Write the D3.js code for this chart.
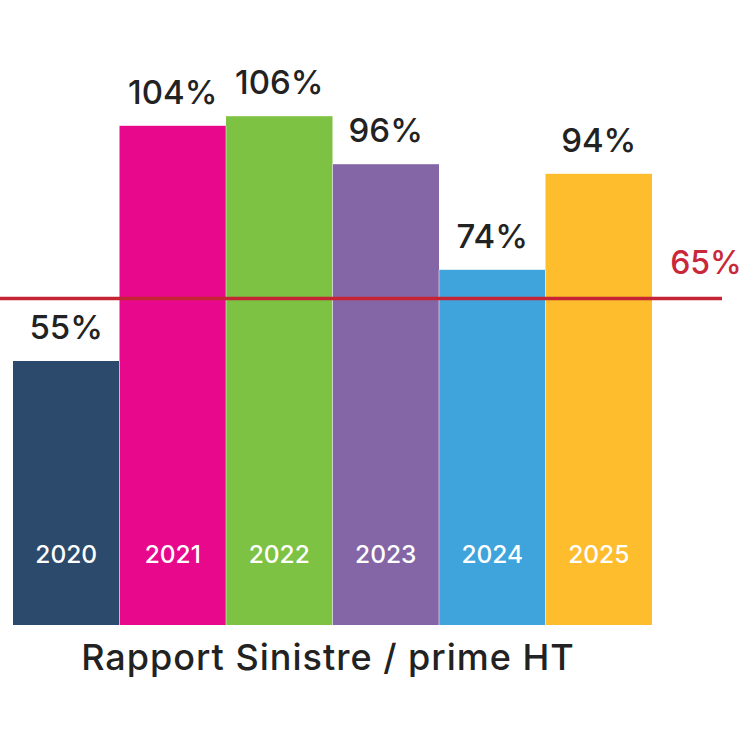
<!DOCTYPE html>
<html>
<head>
<meta charset="utf-8">
<script src="https://cdn.jsdelivr.net/npm/d3@7/dist/d3.min.js"></script>
<style>
  html, body { margin: 0; padding: 0; background: #fff; }
  svg { display: block; }
  text { font-family: Inter, "Noto Sans", sans-serif; }
</style>
</head>
<body>
<svg id="chart" width="745" height="745"></svg>
<script>
// ---- Data ----
const years = ["2020", "2021", "2022", "2023", "2024", "2025"];
const ratios = [55, 104, 106, 96, 74, 94];
const barColors = ["#2c4a6b", "#e8088c", "#7dc242", "#8466a6", "#40a4dc", "#fdbd2c"];
const refLabel = "65%";
const refLevel = 68; // level at which the red line is drawn in the picture
const title = "Rapport Sinistre / prime HT";

// ---- Layout ----
const svg = d3.select("#chart");
const x = d3.scaleBand().domain(years).range([13, 652]).padding(0);
const y = d3.scaleLinear().domain([0, 125]).range([625, 25]);

const g = svg.append("g");

g.selectAll("rect.bar")
  .data(years)
  .join("rect")
  .attr("class", "bar")
  .attr("x", d => x(d))
  .attr("width", x.bandwidth())
  .attr("y", (d, i) => y(ratios[i]))
  .attr("height", (d, i) => y(0) - y(ratios[i]))
  .attr("fill", (d, i) => barColors[i]);

// thin light separators between bars
g.selectAll("line.sep")
  .data(years.slice(1))
  .join("line")
  .attr("class", "sep")
  .attr("x1", d => x(d)).attr("x2", d => x(d))
  .attr("y1", (d) => y(Math.min(ratios[years.indexOf(d)], ratios[years.indexOf(d) - 1])))
  .attr("y2", y(0))
  .attr("stroke", "rgba(255,255,255,0.5)")
  .attr("stroke-width", 1);

// reference line
g.append("line")
  .attr("x1", 0).attr("x2", 722)
  .attr("y1", y(refLevel)).attr("y2", y(refLevel))
  .attr("stroke", "#c42434")
  .attr("stroke-width", 3.5);

g.append("text")
  .attr("x", 706)
  .attr("y", y(refLevel) - 25)
  .attr("text-anchor", "middle")
  .attr("fill", "#c8283a")
  .attr("font-size", 32)
  .attr("font-weight", 500)
  .text(refLabel);

// value labels
g.selectAll("text.val")
  .data(years)
  .join("text")
  .attr("class", "val")
  .attr("x", d => x(d) + x.bandwidth() / 2)
  .attr("y", (d, i) => y(ratios[i]) - 22)
  .attr("text-anchor", "middle")
  .attr("fill", "#222")
  .attr("font-size", 33)
  .attr("font-weight", 500)
  .text((d, i) => ratios[i] + "%");

// year labels inside bars
g.selectAll("text.yr")
  .data(years)
  .join("text")
  .attr("class", "yr")
  .attr("x", d => x(d) + x.bandwidth() / 2)
  .attr("y", 563)
  .attr("text-anchor", "middle")
  .attr("fill", "#fff")
  .attr("font-size", 24.5)
  .attr("font-weight", 500)
  .text(d => d);

// title
svg.append("text")
  .attr("x", 328)
  .attr("y", 670)
  .attr("text-anchor", "middle")
  .attr("fill", "#222")
  .attr("font-size", 36)
  .attr("font-weight", 500)
  .attr("letter-spacing", 1)
  .text(title);
</script>
</body>
</html>
